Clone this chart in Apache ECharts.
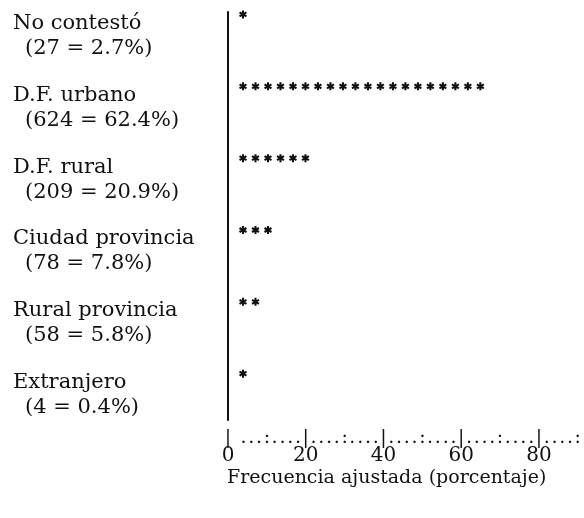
<!DOCTYPE html>
<html><head><meta charset="utf-8">
<script src="https://cdn.jsdelivr.net/npm/echarts@6/dist/echarts.min.js"></script>
<style>html,body{margin:0;padding:0;background:#fff}#c{width:584px;height:518px}</style>
</head><body><div id="c"></div>
<script>
// ---- data ----
const categories = ['No contestó', 'D.F. urbano', 'D.F. rural', 'Ciudad provincia', 'Rural provincia', 'Extranjero'];
const counts = [27, 624, 209, 78, 58, 4];
const percents = [2.7, 62.4, 20.9, 7.8, 5.8, 0.4];
const starCounts = [1, 20, 6, 3, 2, 1];
const axisTicks = [0, 20, 40, 60, 80];
const axisTitle = 'Frecuencia ajustada (porcentaje)';

// ---- layout / style ----
const FONT = 'DejaVu Serif';
const FS_LABEL = 21;
const FS_AXIS = 19;
const ink = '#111';
const GL = 228;
const PX_PER_PCT = 78.5 / 20;
const PCT_MAX = 90;
const STAR_PX = 12.5;
const gridW = PCT_MAX * PX_PER_PCT;
const asterisk = 'path://M-1.3,-5L1.3,-5L1.3,5L-1.3,5ZM3.68,-3.625L4.98,-1.375L-3.68,3.625L-4.98,1.375ZM-4.98,-1.375L-3.68,-3.625L4.98,1.375L3.68,3.625Z';

const chart = echarts.init(document.getElementById('c'), null, {renderer: 'canvas'});
chart.setOption({
  animation: false,
  backgroundColor: '#fff',
  title: {
    text: axisTitle, left: GL - 1, top: 469, padding: 0,
    textStyle: {fontFamily: FONT, fontSize: FS_AXIS, fontWeight: 'normal', color: ink}
  },
  grid: [
    {left: GL, top: -2.1, width: gridW, height: 433.2},
    {left: GL, top: 12, width: gridW, height: 408}
  ],
  xAxis: [
    {
      gridIndex: 0, type: 'value', min: 0, max: PCT_MAX, interval: 2,
      axisLine: {show: false}, axisTick: {show: false}, splitLine: {show: false},
      axisLabel: {
        show: true, margin: -1, interval: 0, showMinLabel: true, showMaxLabel: true,
        formatter: function (v) {
          if (axisTicks.indexOf(v) >= 0) return '{r||}\n{n|' + v + '}';
          if (v % 20 === 0) return '{r||}';
          if (v % 10 === 0) return '{r|:}';
          return '{r|.}';
        },
        rich: {
          r: {fontFamily: FONT, fontSize: FS_AXIS, lineHeight: 16, color: ink},
          n: {fontFamily: FONT, fontSize: FS_AXIS + 1, lineHeight: 20, color: ink}
        }
      }
    },
    {gridIndex: 0, type: 'value', min: 0, max: gridW / STAR_PX, show: false},
    {gridIndex: 1, type: 'value', min: 0, max: 1, show: false}
  ],
  yAxis: [
    {
      gridIndex: 0, type: 'category', data: categories, inverse: true,
      axisLine: {show: false}, axisTick: {show: false}, splitLine: {show: false},
      axisLabel: {
        align: 'left', margin: GL - 13,
        formatter: function (v, i) {
          return '{a|' + v + '}\n{b|(' + counts[i] + ' = ' + percents[i] + '%)}';
        },
        rich: {
          a: {fontFamily: FONT, fontSize: FS_LABEL, lineHeight: 25, color: ink},
          b: {fontFamily: FONT, fontSize: FS_LABEL, lineHeight: 25, color: ink, padding: [0, 0, 0, 12]}
        }
      }
    },
    {
      gridIndex: 1, type: 'value', min: 0, max: 1,
      axisLine: {show: true, lineStyle: {color: ink, width: 2}},
      axisTick: {show: false}, axisLabel: {show: false}, splitLine: {show: false}
    }
  ],
  series: [{
    type: 'pictorialBar', xAxisIndex: 1, yAxisIndex: 0,
    data: starCounts,
    symbol: asterisk, symbolRepeat: true, symbolSize: [8, 8], symbolMargin: '2.26!',
    symbolOffset: [8.75, -21.5], symbolClip: false,
    itemStyle: {color: ink}
  }]
});
</script></body></html>
